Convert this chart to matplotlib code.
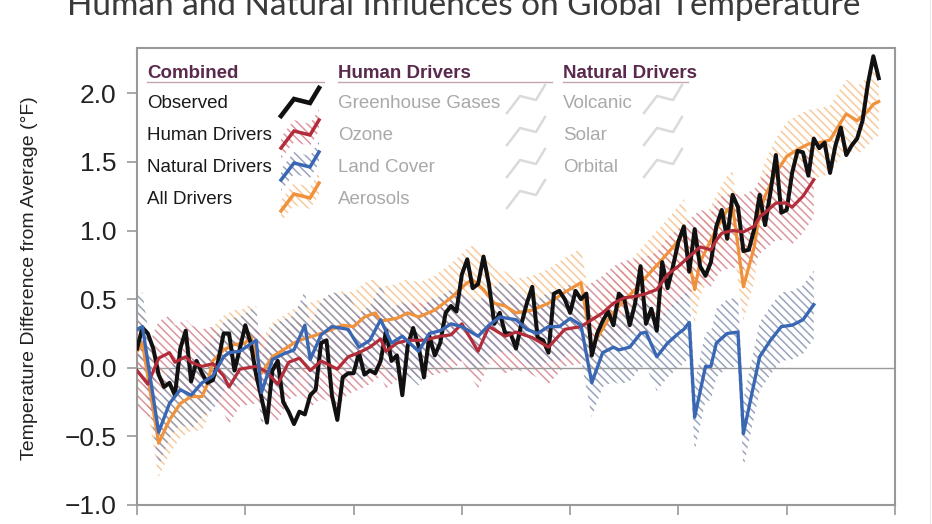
import numpy as np
import matplotlib.pyplot as plt

plt.rcParams['font.family'] = ['Liberation Sans', 'DejaVu Sans']
plt.rcParams['hatch.linewidth'] = 1.1

# observed global temperature difference (deg F), 1880-2017
obs_years = np.arange(1880, 2018)
observed = [0.14, 0.29, 0.25, 0.14, -0.05, -0.14, -0.11, -0.20, 0.14, 0.27,
            -0.10, 0.05, -0.04, -0.11, -0.09, 0.05, 0.25, 0.25, -0.02, 0.14,
            0.31, 0.18, -0.05, -0.22, -0.40, -0.02, 0.05, -0.25, -0.32, -0.41,
            -0.32, -0.34, -0.20, -0.16, 0.18, 0.20, -0.20, -0.38, -0.07, -0.04,
            -0.04, 0.11, -0.05, -0.02, -0.04, 0.05, 0.27, 0.05, 0.09, -0.20,
            0.16, 0.29, 0.16, -0.07, 0.23, 0.09, 0.18, 0.40, 0.45, 0.41,
            0.68, 0.79, 0.58, 0.61, 0.81, 0.61, 0.32, 0.40, 0.25, 0.25,
            0.14, 0.32, 0.47, 0.59, 0.22, 0.20, 0.11, 0.54, 0.56, 0.50,
            0.40, 0.56, 0.50, 0.54, 0.09, 0.25, 0.34, 0.41, 0.31, 0.54,
            0.50, 0.31, 0.47, 0.74, 0.32, 0.43, 0.27, 0.77, 0.58, 0.74,
            0.92, 1.03, 0.70, 1.01, 0.74, 0.67, 0.77, 1.03, 1.15, 0.94,
            1.26, 1.17, 0.85, 0.86, 1.01, 1.26, 1.04, 1.28, 1.55, 1.13,
            1.15, 1.42, 1.58, 1.57, 1.40, 1.67, 1.60, 1.64, 1.42, 1.62,
            1.75, 1.55, 1.62, 1.67, 1.80, 2.07, 2.27, 2.11]

# model runs with human drivers only
human_years = [1880, 1882, 1884, 1886, 1887, 1889, 1890, 1892, 1894, 1896, 1897,
               1899, 1902, 1904, 1906, 1908, 1910, 1912, 1914, 1917, 1919, 1921,
               1923, 1925, 1926, 1928, 1930, 1933, 1936, 1938, 1940, 1943, 1945,
               1948, 1950, 1953, 1956, 1959, 1962, 1964, 1966, 1968, 1970, 1972,
               1974, 1976, 1978, 1980, 1982, 1984, 1986, 1987, 1988, 1990, 1992,
               1994, 1995, 1996, 1998, 2000, 2001, 2003, 2005]
human = [-0.02, -0.12, 0.07, 0.11, 0.04, 0.08, 0.04, 0.01, 0.03, -0.06, -0.14,
         -0.01, 0.01, -0.03, -0.12, 0.04, 0.07, -0.02, 0.05, -0.01, 0.08, 0.11,
         0.15, 0.21, 0.12, 0.18, 0.20, 0.20, 0.23, 0.24, 0.32, 0.12, 0.30,
         0.23, 0.26, 0.22, 0.15, 0.28, 0.30, 0.35, 0.40, 0.47, 0.51, 0.52,
         0.54, 0.57, 0.68, 0.74, 0.81, 0.88, 0.86, 0.93, 0.98, 1.00, 0.99,
         1.03, 1.10, 1.13, 1.20, 1.20, 1.17, 1.25, 1.37]

# model runs with natural drivers only
natural_years = [1880, 1881, 1884, 1886, 1888, 1890, 1892, 1894, 1896, 1897, 1899,
                 1902, 1903, 1905, 1907, 1909, 1911, 1912, 1914, 1916, 1919, 1921,
                 1923, 1925, 1927, 1929, 1932, 1934, 1936, 1938, 1940, 1943, 1945,
                 1947, 1950, 1952, 1954, 1956, 1958, 1960, 1962, 1964, 1966, 1968,
                 1969, 1971, 1973, 1974, 1976, 1978, 1980, 1981, 1982, 1983, 1985,
                 1986, 1987, 1989, 1991, 1992, 1995, 1997, 1999, 2001, 2003, 2005]
natural = [0.28, 0.30, -0.47, -0.26, -0.16, -0.20, -0.11, -0.06, 0.08, 0.11, 0.12,
           0.20, -0.18, 0.06, 0.10, 0.13, 0.31, 0.06, 0.24, 0.30, 0.28, 0.15,
           0.20, 0.35, 0.18, 0.23, 0.12, 0.25, 0.27, 0.32, 0.30, 0.23, 0.31,
           0.37, 0.35, 0.28, 0.25, 0.30, 0.30, 0.36, 0.31, -0.11, 0.11, 0.15,
           0.13, 0.15, 0.25, 0.26, 0.08, 0.18, 0.25, 0.28, 0.33, -0.36, 0.01,
           0.01, 0.18, 0.25, 0.26, -0.48, 0.08, 0.20, 0.30, 0.31, 0.35, 0.46]

# model runs with all drivers
all_years = [1880, 1881, 1884, 1886, 1888, 1890, 1892, 1893, 1894, 1896, 1898,
             1900, 1901, 1903, 1905, 1907, 1909, 1910, 1914, 1916, 1918, 1920,
             1922, 1924, 1925, 1928, 1930, 1932, 1935, 1936, 1938, 1941, 1942,
             1944, 1946, 1948, 1950, 1953, 1956, 1959, 1962, 1964, 1967, 1969,
             1972, 1974, 1977, 1979, 1981, 1983, 1984, 1987, 1989, 1990, 1992,
             1994, 1995, 1996, 1998, 2000, 2002, 2004, 2006, 2008, 2010, 2011,
             2013, 2015, 2016, 2017]
all_drivers = [0.12, 0.18, -0.55, -0.38, -0.26, -0.21, -0.21, -0.12, 0.05, 0.13, 0.17,
               0.18, 0.23, -0.04, 0.08, 0.13, 0.18, 0.20, 0.25, 0.28, 0.31, 0.30,
               0.37, 0.40, 0.34, 0.36, 0.40, 0.37, 0.42, 0.45, 0.51, 0.62, 0.64,
               0.57, 0.47, 0.45, 0.40, 0.42, 0.47, 0.55, 0.62, 0.15, 0.35, 0.45,
               0.57, 0.66, 0.79, 0.88, 0.98, 0.57, 0.77, 1.01, 1.15, 1.18, 0.59,
               0.88, 1.13, 1.25, 1.42, 1.54, 1.59, 1.63, 1.64, 1.66, 1.79, 1.85,
               1.80, 1.87, 1.92, 1.94]

spread_human = 0.27
spread_natural = 0.25
spread_all = 0.25

c_obs = '#111111'
c_human = '#b32c3a'
c_natural = '#3a67b4'
c_all = '#f0913c'
h_human = '#d6848f'
h_natural = '#8894b2'
h_all = '#f6c08c'
hatch = '\\\\\\\\'

fig = plt.figure(figsize=(9.32, 5.24), dpi=100)
ax = fig.add_axes([137 / 932, 1 - 505 / 524, 758 / 932, 457 / 524])

hy = np.array(human)
ny = np.array(natural)
ay = np.array(all_drivers)
ax.fill_between(all_years, ay - spread_all, ay + spread_all, facecolor='none',
                edgecolor=h_all, hatch=hatch, linewidth=0, alpha=0.85, zorder=1)
ax.fill_between(human_years, hy - spread_human, hy + spread_human, facecolor='none',
                edgecolor=h_human, hatch=hatch, linewidth=0, alpha=0.85, zorder=1)
ax.fill_between(natural_years, ny - spread_natural, ny + spread_natural, facecolor='none',
                edgecolor=h_natural, hatch=hatch, linewidth=0, alpha=0.85, zorder=1)

ax.axhline(0, color='#9a9a9a', lw=1.0, zorder=2)

ax.plot(all_years, all_drivers, color=c_all, lw=2.3, zorder=3)
ax.plot(obs_years, observed, color=c_obs, lw=2.9, zorder=4)
ax.plot(human_years, human, color=c_human, lw=2.3, zorder=5)
ax.plot(natural_years, natural, color=c_natural, lw=2.4, zorder=6)

ax.set_xlim(1880, 2020)
ax.set_ylim(-1.0, 2.33)
ax.set_xticks(np.arange(1880, 2021, 20))
ax.set_yticks([-1.0, -0.5, 0.0, 0.5, 1.0, 1.5, 2.0])
ax.set_yticklabels(['\u22121.0', '\u22120.5', '0.0', '0.5', '1.0', '1.5', '2.0'])
ax.tick_params(axis='both', direction='out', length=7, width=1.2, color='#999999',
               labelsize=19, labelcolor='#222222', pad=8)
ax.tick_params(axis='x', labelbottom=False)
for s in ax.spines.values():
    s.set_color('#999999')
    s.set_linewidth(1.5)

fig.text(30 / 932, 1 - 278 / 524, 'Temperature Difference from Average (\u00b0F)',
         rotation=90, ha='center', va='center', fontsize=14, color='#222222')

# title is cropped at the top edge, as in the source image
fig.text(464 / 932, 1 - 15 / 524, 'Human and Natural Influences on Global Temperature',
         ha='center', va='baseline', fontsize=24, color='#3a3a3a',
         family=['Lato', 'DejaVu Sans'])

# legend drawn in pixel coordinates
lax = fig.add_axes([0, 0, 1, 1], zorder=10)
lax.set_xlim(0, 932)
lax.set_ylim(524, 0)
lax.axis('off')

icon_dx = np.array([0, 13, 29, 38])
icon_dy = np.array([12, -5, -1, -16])

head_col = '#5a2a4e'
line_col = '#c2a6b6'
heads = [('Combined', 147, 324), ('Human Drivers', 338, 552), ('Natural Drivers', 563, 688)]
for name, x0, x1 in heads:
    lax.text(x0, 78, name, fontsize=13.5, fontweight='bold', color=head_col, va='baseline')
    lax.plot([x0, x1], [82, 82], color=line_col, lw=1)

rows = [104, 136, 168, 199]
combined = ['Observed', 'Human Drivers', 'Natural Drivers', 'All Drivers']
comb_cols = [c_obs, c_human, c_natural, c_all]
comb_hatch = [None, h_human, h_natural, h_all]
for y, lab, c, hc in zip(rows, combined, comb_cols, comb_hatch):
    lax.text(147, y, lab, fontsize=13.5, color='#1a1a1a', va='center')
    xs = 281 + icon_dx
    ys = y + icon_dy
    if hc is not None:
        lax.fill_between(xs, ys - 11, ys + 11, facecolor='none', edgecolor=hc,
                         hatch=hatch, linewidth=0, alpha=0.85)
    lax.plot(xs, ys, color=c, lw=3.3 if hc is None else 2.5, solid_joinstyle='miter')

human_items = ['Greenhouse Gases', 'Ozone', 'Land Cover', 'Aerosols']
natural_items = ['Volcanic', 'Solar', 'Orbital']
for y, lab in zip(rows, human_items):
    lax.text(338, y, lab, fontsize=13.5, color='#a9a9a9', va='center')
    lax.plot(507 + icon_dx, y - 3 + icon_dy, color='#dadada', lw=1.8)
for y, lab in zip(rows, natural_items):
    lax.text(563, y, lab, fontsize=13.5, color='#a9a9a9', va='center')
    lax.plot(644 + icon_dx, y - 3 + icon_dy, color='#dadada', lw=1.8)

lax.plot([930, 930], [0, 524], color='#ececec', lw=1)

fig.savefig('out.png', dpi=100)
